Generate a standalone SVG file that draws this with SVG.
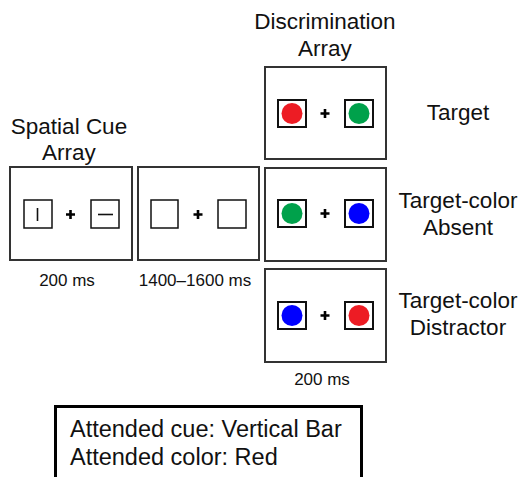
<svg xmlns="http://www.w3.org/2000/svg" width="524" height="477" viewBox="0 0 524 477">
<style>
.lbl{font-family:"Liberation Sans",Arial,sans-serif;font-size:22.5px;fill:#111;text-anchor:middle}
.ms{font-family:"Liberation Sans",Arial,sans-serif;font-size:17px;fill:#111;text-anchor:middle}
.note{font-family:"Liberation Sans",Arial,sans-serif;font-size:23.5px;fill:#111}
.frame{fill:#fff;stroke:#333;stroke-width:2}
.sq{fill:#fff;stroke:#111;stroke-width:1.5}
.dsq{fill:#fff;stroke:#111;stroke-width:2}
.fix{stroke:#000;stroke-width:2.6;fill:none}
.bar{stroke:#111;stroke-width:1.6}
</style>
<rect width="524" height="477" fill="#fff"/>
<g id="connectors"></g>
<g id="labels">
<text class="lbl" x="69" y="134">Spatial Cue</text>
<text class="lbl" x="69" y="160">Array</text>
<text class="lbl" x="325" y="29">Discrimination</text>
<text class="lbl" x="325" y="56">Array</text>
<text class="lbl" x="458" y="120">Target</text>
<text class="lbl" x="458" y="208">Target-color</text>
<text class="lbl" x="458" y="235">Absent</text>
<text class="lbl" x="458" y="308">Target-color</text>
<text class="lbl" x="458" y="335">Distractor</text>
<text class="ms" x="67" y="286">200 ms</text>
<text class="ms" x="195" y="286">1400–1600 ms</text>
<text class="ms" x="322" y="385">200 ms</text>
</g>
<g id="cue">
<rect class="frame" x="10" y="167" width="122" height="93"/>
<rect class="sq" x="24" y="200" width="28" height="28"/>
<line class="bar" x1="37.5" y1="208" x2="37.5" y2="221"/>
<rect class="sq" x="91" y="200" width="28" height="28"/>
<line class="bar" x1="98" y1="214.5" x2="113" y2="214.5"/>
<path class="fix" d="M66 214.5h9M70.5 210v9"/>
</g>
<g id="isi">
<rect class="frame" x="138" y="167" width="121" height="93"/>
<rect class="sq" x="151" y="200" width="27" height="28"/>
<rect class="sq" x="218" y="200" width="28" height="28"/>
<path class="fix" d="M193.5 214.5h9M198 210v9"/>
</g>
<g id="target">
<rect class="frame" x="265" y="67" width="121" height="92"/>
<rect class="dsq" x="278" y="100" width="28" height="27"/>
<circle cx="292" cy="113.5" r="10.5" fill="#ED1C24"/>
<rect class="dsq" x="345" y="100" width="28" height="27"/>
<circle cx="359" cy="113.5" r="10.5" fill="#00A14B"/>
<path class="fix" d="M320.5 113.5h9M325 109v9"/>
</g>
<g id="absent">
<rect class="frame" x="265" y="168" width="121" height="93"/>
<rect class="dsq" x="278" y="200" width="28" height="27"/>
<circle cx="292" cy="213.5" r="10.5" fill="#00A14B"/>
<rect class="dsq" x="345" y="200" width="28" height="27"/>
<circle cx="359" cy="213.5" r="10.5" fill="#0000FF"/>
<path class="fix" d="M320.5 213.5h9M325 209v9"/>
</g>
<g id="distractor">
<rect class="frame" x="265" y="269" width="121" height="93"/>
<rect class="dsq" x="278" y="302" width="28" height="27"/>
<circle cx="292" cy="315.5" r="10.5" fill="#0000FF"/>
<rect class="dsq" x="345" y="302" width="28" height="27"/>
<circle cx="359" cy="315.5" r="10.5" fill="#ED1C24"/>
<path class="fix" d="M320.5 315.5h9M325 311v9"/>
</g>
<g id="legend">
<rect x="55.5" y="406.5" width="306" height="80" fill="#fff" stroke="#000" stroke-width="3"/>
<text class="note" x="70" y="437">Attended cue: Vertical Bar</text>
<text class="note" x="70" y="465">Attended color: Red</text>
</g>
</svg>
